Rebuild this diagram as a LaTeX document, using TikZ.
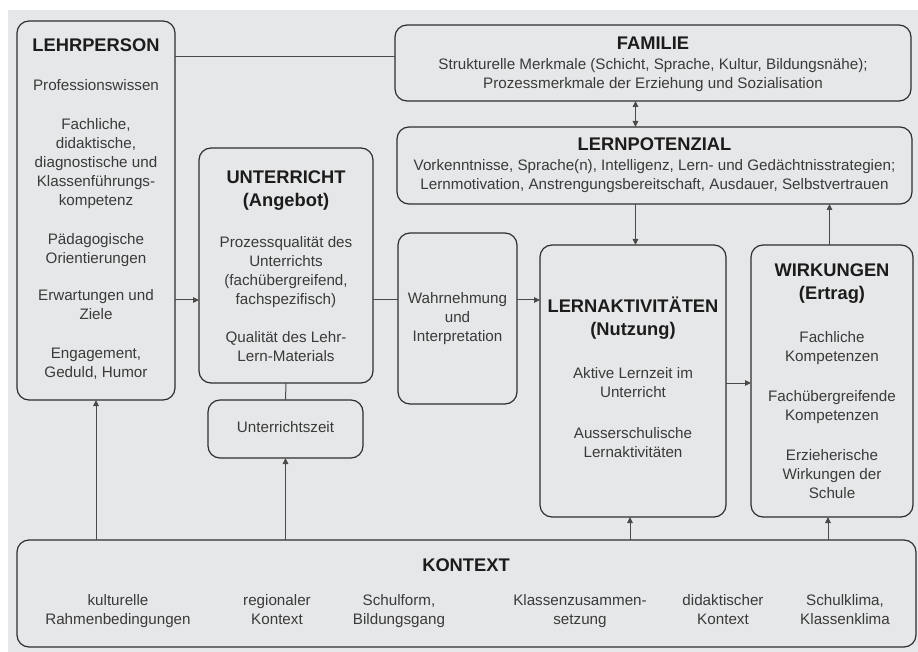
\documentclass[tikz,border=0pt]{standalone}
\usepackage{fontspec}
\setmainfont{Liberation Sans}
\usetikzlibrary{arrows.meta,calc}
\definecolor{bgc}{HTML}{E6E7E8}
\definecolor{bordc}{HTML}{2E2E2E}
\definecolor{linec}{HTML}{4A4A4A}
\definecolor{txtc}{HTML}{3A3A3A}
\definecolor{ttlc}{HTML}{1C1C1C}
\newcommand\boxttl[1]{\rule{0pt}{18pt}{\color{ttlc}\bfseries\fontsize{18.3}{19}\selectfont #1}}
\newcommand\boxsub[1]{{\color{ttlc}\bfseries\fontsize{18.3}{19}\selectfont #1}}
\newcommand\firstrow{\rule{0pt}{18pt}}
\begin{document}
\begin{tikzpicture}[x=1pt,y=-1pt,
  panel/.style={draw=bordc, line width=1.2pt, rounded corners=12pt, inner sep=0pt, outer sep=0pt},
  txt/.style={align=center, inner sep=0pt, outer sep=0pt, text=txtc, font=\fontsize{15.2}{19}\selectfont, anchor=north},
  link/.style={draw=linec, line width=1pt},
  arr/.style={link, -{Triangle[length=6pt,width=5.5pt]}},
  darr/.style={link, {Triangle[length=6pt,width=5.5pt]}-{Triangle[length=6pt,width=5.5pt]}}
]
\useasboundingbox (0,0) rectangle (918,652);
\fill[white] (0,0) rectangle (918,652);
\fill[bgc] (8,10.5) rectangle (918,652);

% boxes
\node[panel, minimum width=158pt, minimum height=379pt] (lp) at (96,210.5) {};
\node[panel, minimum width=174pt, minimum height=235pt] (unt) at (286,265.5) {};
\node[panel, minimum width=155pt, minimum height=58pt] (uz) at (285.5,429) {};
\node[panel, minimum width=899pt, minimum height=107pt] (kon) at (466.5,593.5) {};
\node[panel, minimum width=516pt, minimum height=76pt] (fam) at (653,63) {};
\node[panel, minimum width=515pt, minimum height=77pt] (lpot) at (654.5,165.5) {};
\node[panel, minimum width=119pt, minimum height=171pt] (wahr) at (457.5,318.5) {};
\node[panel, minimum width=186pt, minimum height=272pt] (la) at (633,381) {};
\node[panel, minimum width=162pt, minimum height=272pt] (wirk) at (832,381) {};

% texts
\node[txt] (lpT) at (96,33.5) {\boxttl{LEHRPERSON}\\[19.5pt]
  Professionswissen\\[20pt]
  Fachliche,\\ didaktische,\\ diagnostische und\\ Klassenführungs-\\ kompetenz\\[20pt]
  Pädagogische\\ Orientierungen\\[18.5pt]
  Erwartungen und\\ Ziele\\[19.5pt]
  Engagement,\\ Geduld, Humor};
\node[txt] (untT) at (286,165.5) {\boxttl{UNTERRICHT}\\[4pt]
  \boxsub{(Angebot)}\\[21.5pt]
  Prozessqualität des\\ Unterrichts\\ (fachübergreifend,\\ fachspezifisch)\\[19pt]
  Qualität des Lehr-\\ Lern-Materials};
\node[txt] (uzT) at (285.5,414) {\firstrow Unterrichtszeit};
\node[txt] (famT) at (653,32) {\boxttl{FAMILIE}\\[1pt]
  Strukturelle Merkmale (Schicht, Sprache, Kultur, Bildungsnähe);\\
  Prozessmerkmale der Erziehung und Sozialisation};
\node[txt] (lpotT) at (654.5,132.5) {\boxttl{LERNPOTENZIAL}\\[1.5pt]
  Vorkenntnisse, Sprache(n), Intelligenz, Lern- und Gedächtnisstrategien;\\
  Lernmotivation, Anstrengungsbereitschaft, Ausdauer, Selbstvertrauen};
\node[txt] (wahrT) at (457.5,285) {\firstrow Wahrnehmung\\ und\\ Interpretation};
\node[txt] (laT) at (633,294.5) {\boxttl{LERNAKTIVITÄTEN}\\[4pt]
  \boxsub{(Nutzung)}\\[23.5pt]
  Aktive Lernzeit im\\ Unterricht\\[22pt]
  Ausserschulische\\ Lernaktivitäten};
\node[txt] (wirkT) at (832,258.5) {\boxttl{WIRKUNGEN}\\[4pt]
  \boxsub{(Ertrag)}\\[23.5pt]
  Fachliche\\ Kompetenzen\\[21pt]
  Fachübergreifende\\ Kompetenzen\\[21pt]
  Erzieherische\\ Wirkungen der\\ Schule};
\node[txt] (konT) at (466,553.5) {\boxttl{KONTEXT}};
\node[txt] (k1) at (118,587) {\firstrow kulturelle\\ Rahmenbedingungen};
\node[txt] (k2) at (277,587) {\firstrow regionaler\\ Kontext};
\node[txt] (k3) at (399,587) {\firstrow Schulform,\\ Bildungsgang};
\node[txt] (k4) at (580,587) {\firstrow Klassenzusammen-\\ setzung};
\node[txt] (k5) at (723,587) {\firstrow didaktischer\\ Kontext};
\node[txt] (k6) at (845,587) {\firstrow Schulklima,\\ Klassenklima};

% helper coordinates
\coordinate (famrow) at (0,57);
\coordinate (mainrow) at (0,300);
\coordinate (larow) at (0,383);
\coordinate (midcol) at (635.5,0);
\coordinate (rcol) at (829.5,0);
\coordinate (kcolA) at (630,0);
\coordinate (kcolB) at (828,0);

% connectors
\draw[link] (lp.east |- famrow) -- (fam.west |- famrow);
\draw[darr] (fam.south -| midcol) -- (lpot.north -| midcol);
\draw[arr] (lpot.south -| midcol) -- (la.north -| midcol);
\draw[arr] (wirk.north -| rcol) -- (lpot.south -| rcol);
\draw[arr] (lp.east |- mainrow) -- (unt.west |- mainrow);
\draw[link] (unt.east |- mainrow) -- (wahr.west |- mainrow);
\draw[arr] (wahr.east |- mainrow) -- (la.west |- mainrow);
\draw[arr] (la.east |- larow) -- (wirk.west |- larow);
\draw[link] (unt.south) -- (uz.north);
\draw[arr] (kon.north -| lp.south) -- (lp.south);
\draw[arr] (kon.north -| uz.south) -- (uz.south);
\draw[arr] (kon.north -| kcolA) -- (la.south -| kcolA);
\draw[arr] (kon.north -| kcolB) -- (wirk.south -| kcolB);
\end{tikzpicture}
\end{document}
